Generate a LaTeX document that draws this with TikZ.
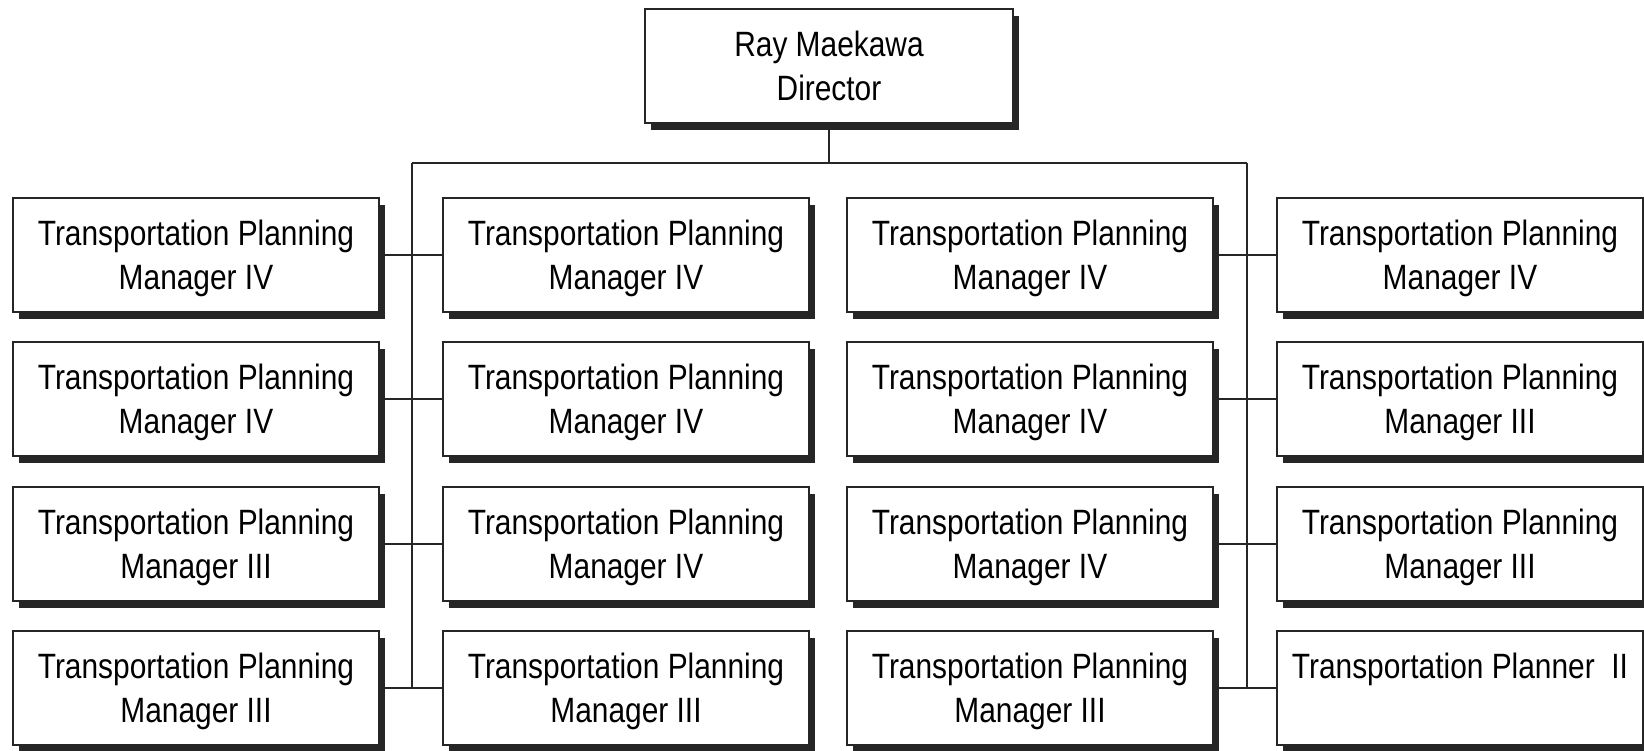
\documentclass[tikz,border=0pt]{standalone}
\usepackage{fontspec}
\setmainfont{Liberation Sans}[FakeStretch=0.85]
\usetikzlibrary{shadows}

\begin{document}
\begin{tikzpicture}[x=0.01cm, y=-0.01cm]
        \useasboundingbox (0,0) rectangle (1644,750);

        \begin{scope}[every node/.style = {rectangle, draw=black!85, line width=0.6pt, fill=white,
                        minimum width=3.66cm, minimum height=1.14cm, inner sep=0pt, align=center,
                        font=\fontsize{10}{12.5}\selectfont, text height=22.3pt, text depth=2.5pt,
                        drop shadow={shadow xshift=0.06cm, shadow yshift=-0.07cm, fill=black!85, opacity=1}}]
            \node (A) at (829, 66) [minimum width=3.68cm] {Ray Maekawa\\Director};

            \node (B) at (196, 255)  {Transportation Planning\\Manager IV};
            \node (C) at (626, 255)  {Transportation Planning\\Manager IV};
            \node (D) at (1030, 255) {Transportation Planning\\Manager IV};
            \node (E) at (1460, 255) {Transportation Planning\\Manager IV};

            \node (F) at (196, 399)  {Transportation Planning\\Manager IV};
            \node (G) at (626, 399)  {Transportation Planning\\Manager IV};
            \node (H) at (1030, 399) {Transportation Planning\\Manager IV};
            \node (I) at (1460, 399) {Transportation Planning\\Manager III};

            \node (J) at (196, 544)  {Transportation Planning\\Manager III};
            \node (K) at (626, 544)  {Transportation Planning\\Manager IV};
            \node (L) at (1030, 544) {Transportation Planning\\Manager IV};
            \node (M) at (1460, 544) {Transportation Planning\\Manager III};

            \node (N) at (196, 688)  {Transportation Planning\\Manager III};
            \node (O) at (626, 688)  {Transportation Planning\\Manager III};
            \node (P) at (1030, 688) {Transportation Planning\\Manager III};
            \node (Q) at (1460, 688) {Transportation Planner\ \ II\\\mbox{}};
        \end{scope}

        \begin{scope}[black!85, line width=0.6pt]
            \coordinate (bl) at (412, 163);
            \coordinate (br) at (1247, 163);

            \draw (A.south) -- (A.south |- bl);
            \draw (bl) -- (br);
            \draw (bl) -- (bl |- N.east);
            \draw (br) -- (br |- Q.west);

            \draw (B) -- (C);
            \draw (F) -- (G);
            \draw (J) -- (K);
            \draw (N) -- (O);

            \draw (D) -- (E);
            \draw (H) -- (I);
            \draw (L) -- (M);
            \draw (P) -- (Q);
        \end{scope}
    \end{tikzpicture}
\end{document}
